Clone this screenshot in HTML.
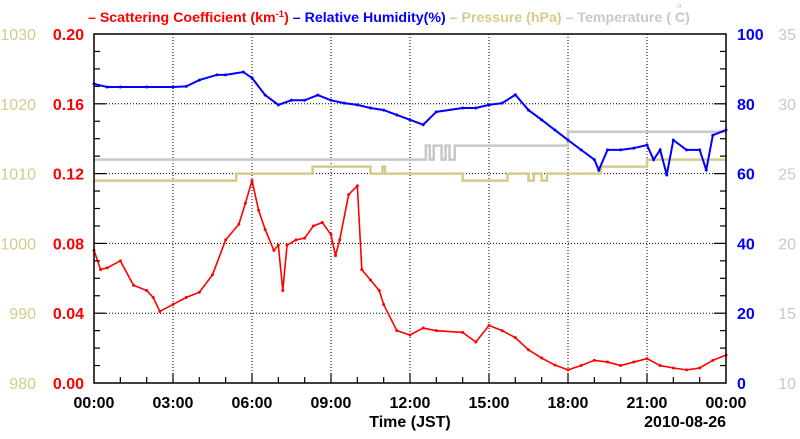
<!DOCTYPE html>
<html><head><meta charset="utf-8"><style>
body{margin:0;background:#fff;width:800px;height:434px;overflow:hidden}
svg{font-family:"Liberation Sans",sans-serif}
</style></head><body>
<svg id="c" width="800" height="434">
<g id="title" font-size="14.2" font-weight="bold">
 <text x="88" y="22" fill="#f00">– Scattering Coefficient (km<tspan dy="-5" font-size="9.5">-1</tspan><tspan dy="5">) </tspan><tspan fill="#00f">– Relative Humidity(%) </tspan><tspan fill="#d4cc8a">– Pressure (hPa) </tspan><tspan fill="#c8c8c8">– Temperature (  C)</tspan></text>
 <text x="677" y="8" font-size="8" fill="#c8c8c8" font-weight="normal">o</text>
</g>
<g id="grid"></g><g id="series"></g><g id="axes"></g>
</svg>
<script>
const hoursTicks=[0,3,6,9,12,15,18,21,24];
const xTickLabels=["00:00","03:00","06:00","09:00","12:00","15:00","18:00","21:00","00:00"];
const scatT=[0,0.25,0.5,1,1.5,2,2.25,2.5,3,3.5,4,4.5,5,5.5,5.75,6,6.25,6.5,6.83,7,7.17,7.33,7.67,8,8.33,8.67,9,9.17,9.33,9.67,10,10.17,10.5,10.83,11,11.5,12,12.5,13,14,14.5,15,15.5,16,16.5,17,17.5,18,18.5,19,19.5,20,20.5,21,21.5,22,22.5,23,23.5,24];
const scatV=[0.076,0.065,0.066,0.070,0.056,0.053,0.049,0.041,0.045,0.049,0.052,0.062,0.082,0.091,0.103,0.116,0.099,0.088,0.076,0.079,0.053,0.079,0.082,0.083,0.090,0.092,0.085,0.073,0.082,0.108,0.113,0.065,0.059,0.053,0.045,0.030,0.0275,0.0315,0.030,0.029,0.0235,0.033,0.030,0.026,0.019,0.0143,0.0103,0.0075,0.010,0.013,0.012,0.010,0.012,0.014,0.010,0.0086,0.0075,0.0086,0.013,0.016];
const rhT=[0,0.5,1,2,3,3.5,4,4.67,5,5.67,6,6.5,7,7.5,8,8.5,9,9.5,10,10.5,11,11.5,12,12.5,13,14,14.5,15,15.5,16,16.5,17,17.5,18,18.5,19,19.17,19.5,20,20.5,21,21.25,21.5,21.75,22,22.5,23,23.25,23.5,24];
const rhV=[85.7,84.8,84.8,84.8,84.8,85,86.8,88.3,88.3,89.1,87.4,82.5,79.7,81,81,82.5,81,80.2,79.7,78.8,78.2,76.8,75.4,74,77.7,78.8,78.8,79.7,80.2,82.6,78.2,75.4,72.5,69.6,66.8,64,61,66.8,66.8,67.3,68.2,64,66.8,59.6,69.6,66.8,66.8,61,71,72.5];
const presT=[0,5.4,8.3,10.5,10.95,11.05,14,15.7,16.5,16.7,17,17.2,19.25,21,24];
const presV=[1009,1010,1011,1010,1011,1010,1009,1010,1009,1010,1009,1010,1011,1012,1012];
const tempT=[0,12.5,12.6,12.75,12.9,13.05,13.2,13.35,13.5,13.7,18,24];
const tempV=[26,26,27,26,27,27,26,27,26,27,28,28];
const L=94,R=726,T=34,B=383;
const X=h=>L+(R-L)*h/24;
const Ys=v=>B-(B-T)*v/0.2, Yr=v=>B-(B-T)*v/100, Yp=v=>B-(B-T)*(v-980)/50, Yt=v=>B-(B-T)*(v-10)/25;
const NS="http://www.w3.org/2000/svg";
function mk(p,tag,a){const e=document.createElementNS(NS,tag);for(const k in a)e.setAttribute(k,a[k]);document.getElementById(p).appendChild(e);return e;}
hoursTicks.slice(1,-1).forEach(h=>{const e=mk('grid','line',{x1:X(h),x2:X(h),y1:T,y2:B,stroke:'#000','stroke-width':1,'stroke-dasharray':'1,2'});

});
[0.04,0.08,0.12,0.16].forEach(v=>{const e=mk('grid','line',{x1:L,x2:R,y1:Ys(v),y2:Ys(v),stroke:'#000','stroke-width':1,'stroke-dasharray':'1,2'});

});
function line(ts,vs,fx,col,w,step,name,dots){
 let d='';ts.forEach((t,i)=>{const x=X(t),y=fx(vs[i]);if(i==0)d='M'+x+','+y;else if(step)d+=' L'+x+','+fx(vs[i-1])+' L'+x+','+y;else d+=' L'+x+','+y;});
 const e=mk('series','path',{d:d,fill:'none',stroke:col,'stroke-width':w});
 
 
 if(dots)ts.forEach((t,i)=>{const c=mk('series','circle',{cx:X(t),cy:fx(vs[i]),r:1.5,fill:col});
 
 });
}
line(tempT,tempV,Yt,'#c8c8c8',2.5,true,'temperature-line',false);
line(presT,presV,Yp,'#d4cc8a',2.5,true,'pressure-line',false);
line(rhT,rhV,Yr,'#00f',2,false,'humidity-line',true);
line(scatT,scatV,Ys,'#f00',1.6,false,'scattering-line',true);
const f=mk('axes','rect',{x:L,y:T,width:R-L,height:B-T,fill:'none',stroke:'#000','stroke-width':1.5});


for(let h=1;h<24;h++){const big=h%3==0;mk('axes','line',{x1:X(h),x2:X(h),y1:B,y2:B-(big?10:6),stroke:'#000','stroke-width':1.2});}
for(let i=1;i<20;i++){const y=B-(B-T)*i/20;const big=i%4==0;mk('axes','line',{x1:L,x2:L+(big?12:6),y1:y,y2:y,stroke:'#000','stroke-width':1.2});mk('axes','line',{x1:R,x2:R-(big?12:6),y1:y,y2:y,stroke:'#000','stroke-width':1.2});}
function txt(x,y,s,col,anchor,size,bold,name){const e=mk('axes','text',{x:x,y:y,fill:col,'text-anchor':anchor,'font-size':size,'font-weight':bold?'bold':'normal'});e.textContent=s;

}
hoursTicks.forEach((h,i)=>txt(X(h),408,xTickLabels[i],'#000','middle',16,true,'x-tick-label'));
txt(410,427,'Time (JST)','#000','middle',16,true,'x-axis-title');
txt(726,427,'2010-08-26','#000','end',16,true,'date-label');
const scatTicks=["0.00","0.04","0.08","0.12","0.16","0.20"],rhTicks=["0","20","40","60","80","100"],presTicks=["980","990","1000","1010","1020","1030"],tempTicks=["10","15","20","25","30","35"];
for(let i=0;i<6;i++){const y=B-(B-T)*i/5+6;
 txt(84,y,scatTicks[i],'#f00','end',16,true,'y-left-tick');
 txt(36,y,presTicks[i],'#d4cc8a','end',16,false,'pressure-tick');
 txt(737,y,rhTicks[i],'#00f','start',16,true,'y-right-tick');
 txt(796,y,tempTicks[i],'#c8c8c8','end',16,false,'temperature-tick');}
</script>
</body></html>
